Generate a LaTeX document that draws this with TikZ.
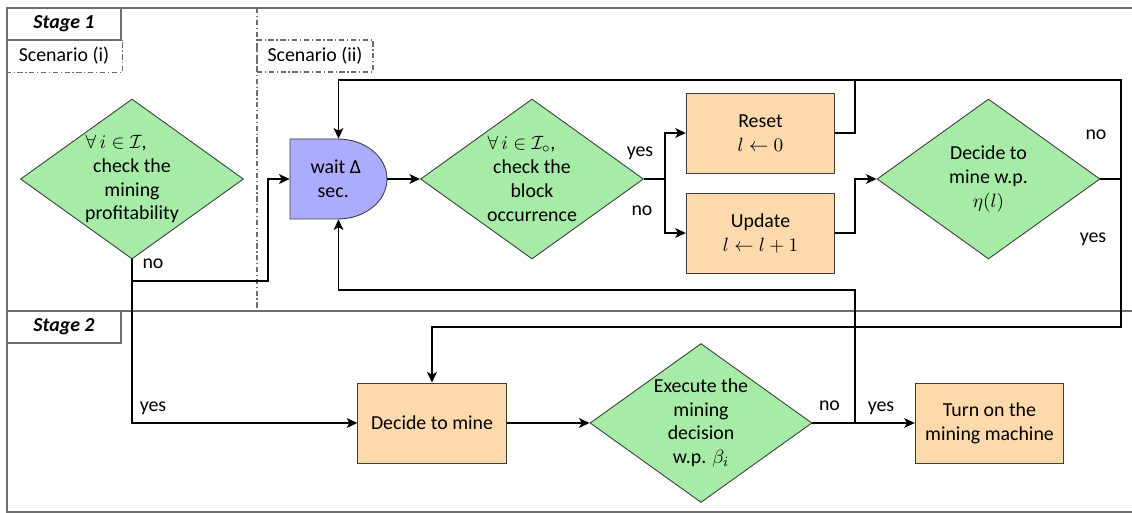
\documentclass[tikz,border=0pt]{standalone}
\usepackage{fontspec}
\setmainfont{Carlito}
\usetikzlibrary{shapes.geometric,arrows.meta}
\definecolor{dgreen}{RGB}{166,236,166}
\definecolor{lorange}{RGB}{253,217,172}
\definecolor{lblue}{RGB}{172,172,255}
\definecolor{framegray}{RGB}{110,110,110}
\definecolor{edgegray}{RGB}{60,60,60}
\begin{document}
\begin{tikzpicture}[x=0.02cm,y=-0.02cm,
  font=\fontsize{11.3}{13.6}\selectfont,
  decision/.style={diamond, draw=edgegray, line width=0.5pt, fill=dgreen, minimum width=4.46cm, minimum height=3.2cm, inner sep=0pt},
  proc/.style={rectangle, draw=edgegray, line width=0.5pt, fill=lorange, minimum width=2.97cm, minimum height=1.6cm, align=center, inner sep=0pt},
  txt/.style={align=center, inner sep=0pt},
  lbl/.style={inner sep=0pt},
  flow/.style={line width=1.1pt, -{Stealth[length=6pt,width=5.5pt,inset=1.5pt]}},
  link/.style={line width=1.1pt},
  frameline/.style={draw=framegray, line width=0.8pt},
  dashdot/.style={draw=framegray, line width=0.6pt, dash pattern=on 3pt off 1.5pt on 0.7pt off 1.5pt},
  stagebox/.style={rectangle, draw=framegray, line width=0.8pt, minimum width=2.28cm, minimum height=0.64cm, inner sep=0pt, font=\fontsize{11.3}{13.6}\selectfont\bfseries\itshape},
  scenbox/.style={rectangle, minimum width=2.32cm, minimum height=0.64cm, inner sep=0pt}
]
\useasboundingbox (0,0) rectangle (1132,513);

% frame and stage separator
\draw[frameline] (1140,8) -- (7,8) -- (7,512) -- (1140,512);
\draw[frameline] (7,311) -- (1140,311);
\draw[dashdot] (257,8) -- (257,311);

% stage / scenario headers
\node[stagebox] (s1) at (64,24) {Stage 1};
\node[scenbox] (sc1) at (64,56) {Scenario (i)};
\draw[dashdot] (sc1.south west) -- (sc1.south east) -- (sc1.north east);
\node[scenbox, dashdot] (sc2) at (315,56) {Scenario (ii)};
\node[stagebox] (s2) at (64,327) {Stage 2};

% stage 1 nodes
\node[decision] (d1) at (132,179) {};
\node[txt] (d1t) at (d1.center) {$\forall\, i \in \mathcal{I}$,\kern18pt\\check the\\mining\\profitability};

\draw[draw=edgegray, line width=0.5pt, fill=lblue] (290,139) -- (338,139) arc[start angle=90, end angle=-90, x radius=0.98cm, y radius=0.8cm] -- (290,219) -- cycle;
\node[txt, minimum width=1.94cm, minimum height=1.6cm] (wait) at (338.5,179) {wait Δ\kern3pt\\sec.\kern6pt};

\node[decision] (d2) at (532,179) {};
\node[txt] (d2t) at (d2.center) {$\forall\, i \in \mathcal{I}_{\circ}$,\kern12pt\\check the\\block\\occurrence};

\node[proc] (reset) at (760.5,133) {Reset\\$l \leftarrow 0$};
\node[proc] (update) at (760.5,233) {Update\\$l \leftarrow l+1$};

\node[decision] (d3) at (988.5,179) {};
\node[txt] (d3t) at (d3.center) {Decide to\\mine w.p.\\$\eta(l)$};

% stage 2 nodes
\node[proc] (decide) at (432,423) {Decide to mine};
\node[decision, minimum width=4.44cm, minimum height=3.18cm] (exec) at (701,423) {};
\node[txt] (exect) at (exec.center) {Execute the\\mining\\decision\\w.p. $\beta_i$};
\node[proc] (turnon) at (989.5,423) {Turn on the\\mining machine};

% connectors
\draw[flow] (d1.south) |- (decide.west);
\draw[flow] (d1.south) |- ++(136,22) |- (wait.west);
\draw[flow] (wait.east) -- (d2.west);
\draw[flow] (d2.east) -- ++(21,0) |- (reset.west);
\draw[flow] (d2.east) -- ++(21,0) |- (update.west);
\draw[link] (reset.east) -| (855,80);
\draw[flow] (update.east) -- ++(20,0) |- (d3.west);
\draw[flow] (d3.east) -| (1121,80) -| (wait.north);
\draw[flow] (d3.east) -| (1121,327) -| (decide.north);
\draw[flow] (decide.east) -- (exec.west);
\draw[flow] (exec.east) -- (turnon.west);
\draw[flow] (exec.east) -| (855,290) -| (wait.south);

% labels
\node[lbl] (lno1) at (153,264) {no};
\node[lbl] (lyes1) at (153,408) {yes};
\node[lbl] (lyes2) at (640,153) {yes};
\node[lbl] (lno2) at (642,211) {no};
\node[lbl] (lno3) at (1096,135) {no};
\node[lbl] (lyes3) at (1093,239) {yes};
\node[lbl] (lno4) at (829.5,406) {no};
\node[lbl] (lyes4) at (881,408) {yes};
\end{tikzpicture}
\end{document}
